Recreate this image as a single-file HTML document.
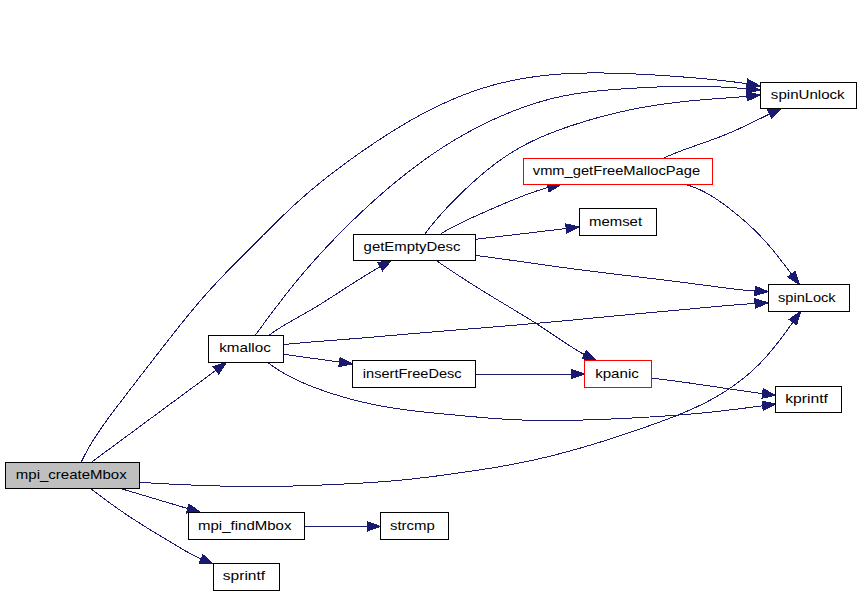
<!DOCTYPE html><html><head><meta charset="utf-8"><style>html,body{margin:0;padding:0;background:#fff;width:861px;height:595px;overflow:hidden}svg{display:block}text{font-family:"Liberation Sans",sans-serif;font-size:13px}</style></head><body>
<svg width="861" height="595" viewBox="0 0 861 595">
<path d="M91.50,462.20 L215.88,370.34" fill="none" stroke="#191970" stroke-width="1" shape-rendering="crispEdges"/>
<polygon points="218.67,374.12 226.50,362.50 213.09,366.56" fill="#191970" stroke="#191970" stroke-width="1" shape-rendering="crispEdges"/>
<path d="M81.20,462.20 L82.07,460.37 L82.95,458.55 L83.86,456.75 L84.78,454.96 L85.72,453.18 L86.68,451.41 L87.66,449.65 L88.65,447.90 L89.66,446.16 L90.68,444.44 L91.72,442.72 L92.77,441.01 L93.83,439.31 L94.91,437.61 L96.00,435.93 L97.10,434.25 L98.21,432.58 L99.33,430.92 L100.47,429.26 L101.61,427.61 L102.76,425.97 L103.92,424.33 L105.09,422.70 L106.26,421.07 L107.44,419.44 L108.63,417.82 L109.82,416.21 L111.02,414.59 L112.22,412.98 L113.43,411.37 L114.64,409.77 L115.85,408.17 L117.07,406.56 L118.28,404.96 L119.50,403.36 L120.72,401.76 L121.94,400.17 L123.16,398.57 L124.38,396.97 L125.60,395.37 L126.82,393.78 L128.04,392.18 L129.26,390.59 L130.49,388.99 L131.71,387.40 L132.94,385.80 L134.16,384.21 L135.39,382.62 L136.61,381.03 L137.84,379.43 L139.07,377.84 L140.29,376.25 L141.52,374.66 L142.75,373.07 L143.98,371.48 L145.21,369.89 L146.44,368.30 L147.67,366.71 L148.90,365.12 L150.13,363.53 L151.36,361.95 L152.59,360.36 L153.83,358.77 L155.06,357.18 L156.29,355.60 L157.52,354.01 L158.76,352.42 L159.99,350.84 L161.22,349.25 L162.46,347.66 L163.69,346.08 L164.93,344.49 L166.16,342.91 L167.40,341.32 L168.64,339.74 L169.88,338.16 L171.12,336.58 L172.36,335.00 L173.60,333.42 L174.85,331.84 L176.09,330.26 L177.34,328.69 L178.59,327.11 L179.84,325.54 L181.10,323.97 L182.36,322.41 L183.62,320.84 L184.88,319.28 L186.15,317.72 L187.41,316.16 L188.69,314.61 L189.96,313.06 L191.24,311.51 L192.53,309.97 L193.81,308.43 L195.10,306.89 L196.40,305.35 L197.70,303.82 L199.00,302.30 L200.31,300.77 L201.63,299.25 L202.94,297.74 L204.27,296.23 L205.60,294.72 L206.93,293.22 L208.27,291.72 L209.61,290.23 L210.96,288.74 L212.32,287.26 L213.68,285.78 L215.04,284.30 L216.41,282.83 L217.78,281.36 L219.15,279.90 L220.53,278.44 L221.92,276.98 L223.30,275.52 L224.69,274.07 L226.08,272.62 L227.48,271.17 L228.88,269.72 L230.28,268.28 L231.68,266.84 L233.09,265.40 L234.50,263.97 L235.91,262.53 L237.32,261.10 L238.73,259.67 L240.15,258.24 L241.56,256.81 L242.98,255.38 L244.40,253.96 L245.82,252.53 L247.24,251.10 L248.66,249.68 L250.08,248.26 L251.50,246.83 L252.92,245.41 L254.34,243.99 L255.76,242.56 L257.18,241.14 L258.60,239.72 L260.02,238.30 L261.44,236.87 L262.86,235.45 L264.29,234.03 L265.71,232.61 L267.13,231.20 L268.56,229.78 L269.98,228.37 L271.41,226.95 L272.84,225.54 L274.27,224.13 L275.70,222.73 L277.14,221.32 L278.58,219.92 L280.02,218.53 L281.46,217.13 L282.91,215.74 L284.36,214.35 L285.81,212.97 L287.27,211.58 L288.73,210.21 L290.19,208.83 L291.66,207.46 L293.13,206.10 L294.60,204.74 L296.08,203.38 L297.57,202.03 L299.06,200.69 L300.55,199.35 L302.05,198.02 L303.56,196.69 L305.07,195.36 L306.58,194.05 L308.10,192.73 L309.63,191.43 L311.16,190.13 L312.70,188.84 L314.24,187.55 L315.79,186.26 L317.34,184.99 L318.90,183.71 L320.46,182.45 L322.03,181.19 L323.60,179.93 L325.17,178.68 L326.75,177.43 L328.34,176.19 L329.92,174.96 L331.52,173.72 L333.11,172.50 L334.71,171.28 L336.31,170.06 L337.92,168.85 L339.53,167.64 L341.14,166.44 L342.76,165.24 L344.38,164.05 L346.00,162.86 L347.63,161.67 L349.25,160.49 L350.89,159.31 L352.52,158.14 L354.16,156.97 L355.79,155.80 L357.43,154.64 L359.08,153.49 L360.72,152.33 L362.37,151.18 L364.02,150.04 L365.67,148.90 L367.33,147.76 L368.98,146.62 L370.64,145.50 L372.30,144.37 L373.97,143.25 L375.63,142.14 L377.30,141.02 L378.98,139.92 L380.65,138.82 L382.33,137.72 L384.01,136.63 L385.70,135.55 L387.39,134.47 L389.08,133.39 L390.77,132.32 L392.47,131.26 L394.18,130.20 L395.88,129.15 L397.59,128.10 L399.30,127.06 L401.02,126.03 L402.74,125.00 L404.47,123.98 L406.20,122.97 L407.93,121.96 L409.67,120.96 L411.42,119.97 L413.16,118.98 L414.91,118.00 L416.67,117.03 L418.43,116.06 L420.20,115.10 L421.97,114.15 L423.74,113.21 L425.53,112.28 L427.31,111.35 L429.10,110.43 L430.89,109.52 L432.69,108.62 L434.50,107.72 L436.31,106.84 L438.12,105.96 L439.94,105.10 L441.76,104.24 L443.58,103.39 L445.42,102.56 L447.25,101.73 L449.09,100.91 L450.93,100.10 L452.78,99.31 L454.64,98.52 L456.49,97.75 L458.35,96.98 L460.22,96.23 L462.09,95.49 L463.96,94.76 L465.84,94.04 L467.72,93.33 L469.61,92.64 L471.50,91.95 L473.39,91.28 L475.29,90.63 L477.20,89.98 L479.10,89.35 L481.01,88.73 L482.93,88.12 L484.84,87.53 L486.77,86.95 L488.69,86.38 L490.62,85.83 L492.55,85.29 L494.49,84.76 L496.43,84.25 L498.37,83.75 L500.32,83.26 L502.27,82.78 L504.22,82.32 L506.18,81.87 L508.13,81.43 L510.09,81.00 L512.06,80.59 L514.02,80.18 L515.99,79.79 L517.96,79.42 L519.94,79.05 L521.91,78.70 L523.89,78.35 L525.87,78.02 L527.85,77.70 L529.84,77.39 L531.82,77.10 L533.81,76.81 L535.80,76.54 L537.79,76.28 L539.78,76.03 L541.78,75.78 L543.77,75.56 L545.77,75.34 L547.76,75.13 L549.76,74.93 L551.76,74.74 L553.76,74.57 L555.76,74.40 L557.76,74.25 L559.77,74.10 L561.77,73.96 L563.77,73.84 L565.78,73.72 L567.78,73.61 L569.79,73.51 L571.80,73.42 L573.80,73.34 L575.81,73.27 L577.82,73.20 L579.83,73.14 L581.84,73.09 L583.84,73.05 L585.85,73.02 L587.86,72.99 L589.87,72.97 L591.88,72.96 L593.89,72.95 L595.90,72.95 L597.92,72.96 L599.93,72.97 L601.94,72.99 L603.95,73.01 L605.96,73.04 L607.97,73.07 L609.98,73.11 L611.99,73.15 L614.00,73.20 L616.01,73.26 L618.02,73.31 L620.03,73.38 L622.03,73.44 L624.04,73.51 L626.05,73.58 L628.06,73.66 L630.07,73.74 L632.07,73.82 L634.08,73.91 L636.09,74.00 L638.09,74.10 L640.10,74.19 L642.10,74.30 L644.11,74.40 L646.12,74.51 L648.12,74.62 L650.13,74.73 L652.13,74.85 L654.13,74.97 L656.14,75.09 L658.14,75.21 L660.15,75.34 L662.15,75.47 L664.15,75.60 L666.16,75.74 L668.16,75.88 L670.16,76.02 L672.17,76.16 L674.17,76.31 L676.17,76.45 L678.18,76.60 L680.18,76.75 L682.18,76.91 L684.19,77.06 L686.19,77.22 L688.19,77.38 L690.20,77.54 L692.20,77.71 L694.20,77.87 L696.21,78.04 L698.21,78.21 L700.21,78.39 L702.21,78.56 L704.22,78.74 L706.22,78.92 L708.22,79.11 L710.22,79.30 L712.22,79.49 L714.22,79.69 L716.22,79.89 L718.22,80.10 L720.22,80.31 L722.22,80.53 L724.22,80.76 L726.22,80.99 L728.21,81.22 L730.21,81.46 L732.20,81.71 L734.19,81.97 L736.19,82.23 L738.18,82.50 L740.17,82.77 L742.16,83.06 L744.15,83.35 L746.13,83.65 L746.99,83.80" fill="none" stroke="#191970" stroke-width="1" shape-rendering="crispEdges"/>
<polygon points="746.20,88.43 760.00,86.00 747.77,79.16" fill="#191970" stroke="#191970" stroke-width="1" shape-rendering="crispEdges"/>
<path d="M139.50,482.30 L141.50,482.42 L143.51,482.55 L145.51,482.67 L147.52,482.79 L149.52,482.91 L151.53,483.02 L153.53,483.14 L155.54,483.26 L157.54,483.37 L159.55,483.48 L161.56,483.59 L163.56,483.70 L165.57,483.81 L167.57,483.91 L169.58,484.02 L171.58,484.12 L173.59,484.22 L175.60,484.32 L177.60,484.42 L179.61,484.51 L181.62,484.61 L183.62,484.70 L185.63,484.79 L187.64,484.88 L189.64,484.96 L191.65,485.05 L193.66,485.13 L195.66,485.21 L197.67,485.29 L199.68,485.36 L201.69,485.44 L203.69,485.51 L205.70,485.58 L207.71,485.65 L209.72,485.71 L211.72,485.77 L213.73,485.84 L215.74,485.89 L217.75,485.95 L219.75,486.00 L221.76,486.05 L223.77,486.10 L225.78,486.15 L227.79,486.19 L229.80,486.23 L231.80,486.27 L233.81,486.31 L235.82,486.34 L237.83,486.37 L239.84,486.40 L241.85,486.42 L243.85,486.44 L245.86,486.46 L247.87,486.48 L249.88,486.49 L251.89,486.50 L253.90,486.51 L255.90,486.51 L257.91,486.51 L259.92,486.51 L261.93,486.50 L263.94,486.49 L265.95,486.48 L267.96,486.47 L269.96,486.45 L271.97,486.42 L273.98,486.40 L275.99,486.37 L278.00,486.34 L280.01,486.30 L282.02,486.27 L284.02,486.23 L286.03,486.18 L288.04,486.14 L290.05,486.09 L292.06,486.03 L294.07,485.98 L296.07,485.92 L298.08,485.87 L300.09,485.80 L302.10,485.74 L304.11,485.68 L306.11,485.61 L308.12,485.54 L310.13,485.47 L312.14,485.39 L314.14,485.32 L316.15,485.24 L318.16,485.16 L320.17,485.08 L322.17,485.00 L324.18,484.91 L326.19,484.83 L328.20,484.74 L330.20,484.65 L332.21,484.57 L334.22,484.48 L336.22,484.38 L338.23,484.29 L340.24,484.20 L342.24,484.10 L344.25,484.01 L346.25,483.91 L348.26,483.81 L350.27,483.70 L352.27,483.60 L354.28,483.49 L356.28,483.38 L358.29,483.27 L360.29,483.16 L362.30,483.04 L364.30,482.92 L366.30,482.80 L368.31,482.67 L370.31,482.54 L372.32,482.41 L374.32,482.28 L376.32,482.14 L378.33,482.00 L380.33,481.85 L382.33,481.70 L384.33,481.55 L386.33,481.39 L388.34,481.23 L390.34,481.06 L392.34,480.89 L394.34,480.71 L396.34,480.53 L398.34,480.35 L400.34,480.16 L402.34,479.96 L404.34,479.77 L406.33,479.56 L408.33,479.35 L410.33,479.14 L412.33,478.93 L414.33,478.70 L416.32,478.48 L418.32,478.25 L420.32,478.02 L422.31,477.78 L424.31,477.55 L426.30,477.30 L428.30,477.06 L430.29,476.81 L432.28,476.56 L434.28,476.30 L436.27,476.04 L438.26,475.78 L440.26,475.52 L442.25,475.25 L444.24,474.99 L446.23,474.71 L448.22,474.44 L450.21,474.17 L452.20,473.89 L454.19,473.61 L456.18,473.33 L458.16,473.05 L460.15,472.77 L462.14,472.48 L464.13,472.19 L466.11,471.91 L468.10,471.62 L470.08,471.33 L472.07,471.03 L474.05,470.74 L476.04,470.44 L478.02,470.14 L480.00,469.84 L481.98,469.53 L483.96,469.22 L485.94,468.91 L487.92,468.59 L489.90,468.28 L491.88,467.95 L493.86,467.63 L495.84,467.30 L497.82,466.97 L499.79,466.63 L501.77,466.29 L503.74,465.94 L505.72,465.59 L507.69,465.23 L509.67,464.87 L511.64,464.50 L513.61,464.13 L515.58,463.76 L517.55,463.37 L519.52,462.99 L521.49,462.59 L523.46,462.19 L525.42,461.78 L527.39,461.37 L529.36,460.95 L531.32,460.53 L533.29,460.10 L535.25,459.66 L537.21,459.21 L539.17,458.76 L541.13,458.31 L543.09,457.85 L545.05,457.38 L547.01,456.91 L548.96,456.43 L550.92,455.95 L552.87,455.46 L554.82,454.97 L556.77,454.47 L558.72,453.96 L560.67,453.46 L562.62,452.94 L564.56,452.42 L566.51,451.90 L568.45,451.37 L570.39,450.84 L572.33,450.31 L574.27,449.76 L576.20,449.22 L578.14,448.67 L580.07,448.12 L582.00,447.56 L583.93,447.00 L585.86,446.43 L587.78,445.87 L589.71,445.29 L591.63,444.72 L593.55,444.14 L595.47,443.56 L597.38,442.97 L599.30,442.38 L601.21,441.79 L603.12,441.19 L605.03,440.59 L606.94,439.99 L608.85,439.38 L610.76,438.77 L612.66,438.16 L614.56,437.54 L616.47,436.92 L618.37,436.30 L620.27,435.67 L622.17,435.05 L624.07,434.41 L625.97,433.78 L627.86,433.14 L629.76,432.50 L631.66,431.86 L633.55,431.21 L635.45,430.56 L637.34,429.91 L639.24,429.25 L641.13,428.60 L643.02,427.93 L644.92,427.27 L646.81,426.61 L648.70,425.94 L650.60,425.27 L652.49,424.59 L654.38,423.91 L656.28,423.23 L658.17,422.55 L660.06,421.86 L661.95,421.17 L663.83,420.47 L665.72,419.76 L667.60,419.05 L669.48,418.34 L671.36,417.62 L673.24,416.89 L675.11,416.15 L676.98,415.41 L678.85,414.66 L680.71,413.90 L682.57,413.13 L684.42,412.35 L686.27,411.57 L688.12,410.77 L689.96,409.97 L691.79,409.15 L693.62,408.32 L695.45,407.48 L697.26,406.63 L699.08,405.77 L700.88,404.90 L702.68,404.01 L704.47,403.11 L706.26,402.20 L708.04,401.27 L709.81,400.33 L711.57,399.38 L713.32,398.41 L715.07,397.42 L716.81,396.43 L718.54,395.41 L720.26,394.39 L721.97,393.34 L723.67,392.29 L725.36,391.21 L727.04,390.13 L728.71,389.03 L730.37,387.91 L732.02,386.78 L733.66,385.63 L735.29,384.47 L736.91,383.29 L738.51,382.09 L740.11,380.88 L741.69,379.66 L743.26,378.41 L744.81,377.16 L746.36,375.88 L747.89,374.59 L749.40,373.29 L750.91,371.97 L752.40,370.63 L753.87,369.27 L755.34,367.90 L756.78,366.52 L758.22,365.11 L759.63,363.69 L761.04,362.25 L762.42,360.80 L763.79,359.33 L765.15,357.84 L766.50,356.34 L767.83,354.83 L769.15,353.30 L770.45,351.77 L771.75,350.22 L773.03,348.65 L774.30,347.08 L775.56,345.50 L776.82,343.91 L778.06,342.32 L779.29,340.71 L780.52,339.10 L781.74,337.49 L782.95,335.87 L784.15,334.25 L785.35,332.62 L786.55,330.99 L787.73,329.36 L788.92,327.72 L790.10,326.09 L791.27,324.46 L792.44,322.83 L792.89,322.21" fill="none" stroke="#191970" stroke-width="1" shape-rendering="crispEdges"/>
<polygon points="796.70,324.96 800.60,311.50 789.07,319.46" fill="#191970" stroke="#191970" stroke-width="1" shape-rendering="crispEdges"/>
<path d="M115.50,487.00 L187.65,508.53" fill="none" stroke="#191970" stroke-width="1" shape-rendering="crispEdges"/>
<polygon points="186.31,513.03 200.30,512.30 188.99,504.02" fill="#191970" stroke="#191970" stroke-width="1" shape-rendering="crispEdges"/>
<path d="M88.80,487.30 L90.42,488.53 L92.04,489.76 L93.66,490.99 L95.29,492.22 L96.92,493.44 L98.55,494.66 L100.18,495.88 L101.82,497.09 L103.45,498.30 L105.09,499.51 L106.74,500.71 L108.38,501.91 L110.03,503.10 L111.69,504.29 L113.34,505.48 L115.00,506.66 L116.67,507.83 L118.33,509.00 L120.00,510.16 L121.68,511.32 L123.36,512.47 L125.04,513.62 L126.73,514.75 L128.42,515.89 L130.11,517.01 L131.81,518.13 L133.52,519.24 L135.23,520.35 L136.94,521.45 L138.65,522.54 L140.37,523.63 L142.09,524.72 L143.82,525.80 L145.54,526.88 L147.27,527.95 L149.01,529.02 L150.74,530.09 L152.48,531.15 L154.22,532.21 L155.95,533.27 L157.70,534.33 L159.44,535.39 L161.18,536.44 L162.92,537.49 L164.67,538.55 L166.41,539.60 L168.16,540.65 L169.90,541.70 L171.65,542.76 L173.40,543.81 L175.14,544.86 L176.89,545.91 L178.64,546.95 L180.40,547.98 L182.15,549.01 L183.92,550.03 L185.69,551.04 L187.46,552.03 L189.24,553.01 L191.03,553.98 L192.82,554.93 L194.63,555.86 L196.44,556.78 L198.27,557.67 L200.10,558.54 L201.07,558.93" fill="none" stroke="#191970" stroke-width="1" shape-rendering="crispEdges"/>
<polygon points="199.30,563.29 213.30,563.90 202.84,554.58" fill="#191970" stroke="#191970" stroke-width="1" shape-rendering="crispEdges"/>
<path d="M304.50,526.40 L367.30,526.40" fill="none" stroke="#191970" stroke-width="1" shape-rendering="crispEdges"/>
<polygon points="367.30,531.10 380.50,526.40 367.30,521.70" fill="#191970" stroke="#191970" stroke-width="1" shape-rendering="crispEdges"/>
<path d="M268.90,335.40 L270.54,334.19 L272.19,333.00 L273.86,331.83 L275.54,330.69 L277.23,329.57 L278.94,328.47 L280.65,327.39 L282.38,326.32 L284.11,325.27 L285.85,324.23 L287.60,323.20 L289.36,322.18 L291.12,321.17 L292.88,320.17 L294.65,319.17 L296.42,318.17 L298.19,317.18 L299.97,316.19 L301.74,315.20 L303.51,314.20 L305.27,313.20 L307.04,312.20 L308.80,311.18 L310.55,310.16 L312.30,309.13 L314.05,308.09 L315.79,307.04 L317.52,305.99 L319.25,304.92 L320.98,303.85 L322.70,302.77 L324.42,301.69 L326.13,300.60 L327.84,299.51 L329.55,298.42 L331.26,297.32 L332.96,296.22 L334.67,295.11 L336.37,294.01 L338.07,292.90 L339.77,291.80 L341.47,290.69 L343.17,289.59 L344.87,288.49 L346.57,287.39 L348.27,286.29 L349.97,285.20 L351.67,284.11 L353.37,283.03 L355.08,281.95 L356.79,280.87 L358.50,279.80 L360.21,278.73 L361.92,277.67 L363.64,276.61 L365.36,275.55 L367.08,274.50 L368.81,273.46 L370.54,272.41 L372.27,271.37 L374.01,270.34 L375.75,269.31 L377.49,268.28 L379.24,267.26 L380.14,266.74" fill="none" stroke="#191970" stroke-width="1" shape-rendering="crispEdges"/>
<polygon points="382.47,270.83 391.60,260.20 377.81,262.66" fill="#191970" stroke="#191970" stroke-width="1" shape-rendering="crispEdges"/>
<path d="M255.60,334.70 L256.80,333.08 L257.99,331.47 L259.19,329.85 L260.38,328.23 L261.58,326.61 L262.78,325.00 L263.97,323.38 L265.17,321.77 L266.37,320.15 L267.57,318.54 L268.78,316.92 L269.98,315.31 L271.19,313.70 L272.39,312.09 L273.60,310.49 L274.82,308.88 L276.03,307.28 L277.25,305.67 L278.47,304.07 L279.69,302.48 L280.91,300.88 L282.14,299.29 L283.37,297.70 L284.61,296.11 L285.85,294.52 L287.09,292.94 L288.33,291.36 L289.58,289.79 L290.84,288.22 L292.10,286.65 L293.36,285.08 L294.63,283.52 L295.90,281.97 L297.18,280.41 L298.46,278.86 L299.75,277.32 L301.04,275.78 L302.34,274.24 L303.64,272.71 L304.95,271.18 L306.26,269.65 L307.57,268.13 L308.89,266.61 L310.22,265.10 L311.55,263.59 L312.88,262.08 L314.22,260.58 L315.56,259.08 L316.91,257.59 L318.26,256.10 L319.61,254.61 L320.97,253.13 L322.34,251.65 L323.70,250.17 L325.07,248.70 L326.45,247.23 L327.83,245.76 L329.21,244.30 L330.59,242.84 L331.98,241.39 L333.38,239.94 L334.77,238.49 L336.18,237.05 L337.58,235.61 L338.99,234.17 L340.40,232.74 L341.81,231.31 L343.23,229.88 L344.65,228.46 L346.08,227.04 L347.51,225.62 L348.94,224.21 L350.37,222.80 L351.81,221.40 L353.25,220.00 L354.70,218.60 L356.15,217.21 L357.60,215.82 L359.06,214.43 L360.52,213.05 L361.98,211.67 L363.45,210.30 L364.92,208.93 L366.40,207.56 L367.88,206.20 L369.36,204.84 L370.85,203.49 L372.34,202.14 L373.83,200.79 L375.33,199.45 L376.83,198.11 L378.34,196.78 L379.85,195.45 L381.37,194.13 L382.88,192.81 L384.41,191.49 L385.93,190.18 L387.46,188.87 L389.00,187.57 L390.54,186.28 L392.08,184.98 L393.63,183.69 L395.18,182.41 L396.73,181.13 L398.29,179.86 L399.86,178.59 L401.42,177.33 L403.00,176.07 L404.57,174.82 L406.16,173.57 L407.74,172.33 L409.33,171.10 L410.93,169.87 L412.53,168.65 L414.13,167.43 L415.74,166.22 L417.35,165.02 L418.97,163.82 L420.59,162.63 L422.22,161.44 L423.85,160.27 L425.49,159.10 L427.13,157.93 L428.78,156.78 L430.43,155.63 L432.08,154.49 L433.74,153.35 L435.41,152.22 L437.08,151.10 L438.76,149.99 L440.44,148.89 L442.12,147.79 L443.81,146.70 L445.51,145.62 L447.21,144.55 L448.92,143.49 L450.63,142.43 L452.35,141.38 L454.07,140.35 L455.79,139.31 L457.52,138.29 L459.26,137.28 L461.00,136.27 L462.75,135.27 L464.50,134.29 L466.25,133.31 L468.01,132.33 L469.78,131.37 L471.55,130.42 L473.32,129.47 L475.10,128.53 L476.88,127.61 L478.67,126.69 L480.46,125.78 L482.26,124.88 L484.06,123.98 L485.87,123.10 L487.68,122.23 L489.50,121.36 L491.32,120.50 L493.14,119.66 L494.97,118.82 L496.81,117.99 L498.65,117.17 L500.49,116.36 L502.34,115.56 L504.19,114.77 L506.04,113.99 L507.90,113.22 L509.77,112.46 L511.64,111.71 L513.51,110.97 L515.39,110.24 L517.27,109.52 L519.15,108.82 L521.04,108.12 L522.94,107.44 L524.83,106.76 L526.74,106.10 L528.64,105.45 L530.55,104.81 L532.46,104.19 L534.38,103.58 L536.30,102.98 L538.22,102.39 L540.15,101.81 L542.08,101.25 L544.01,100.70 L545.95,100.17 L547.89,99.65 L549.83,99.14 L551.78,98.65 L553.73,98.17 L555.68,97.70 L557.64,97.25 L559.60,96.82 L561.56,96.39 L563.53,95.99 L565.49,95.60 L567.47,95.22 L569.44,94.86 L571.42,94.51 L573.40,94.17 L575.38,93.85 L577.36,93.53 L579.35,93.24 L581.34,92.95 L583.33,92.67 L585.32,92.40 L587.32,92.15 L589.31,91.90 L591.31,91.67 L593.31,91.44 L595.31,91.22 L597.31,91.01 L599.32,90.81 L601.32,90.62 L603.32,90.43 L605.33,90.25 L607.34,90.08 L609.35,89.91 L611.35,89.75 L613.36,89.59 L615.37,89.44 L617.38,89.29 L619.39,89.15 L621.40,89.01 L623.41,88.88 L625.42,88.74 L627.43,88.61 L629.44,88.48 L631.45,88.36 L633.46,88.23 L635.47,88.11 L637.47,87.99 L639.48,87.87 L641.49,87.76 L643.50,87.65 L645.51,87.54 L647.51,87.43 L649.52,87.33 L651.53,87.24 L653.53,87.14 L655.54,87.05 L657.55,86.96 L659.56,86.88 L661.56,86.80 L663.57,86.73 L665.58,86.66 L667.59,86.60 L669.59,86.54 L671.60,86.48 L673.61,86.43 L675.62,86.39 L677.63,86.35 L679.64,86.31 L681.65,86.29 L683.66,86.26 L685.67,86.25 L687.68,86.24 L689.69,86.23 L691.70,86.24 L693.71,86.25 L695.72,86.26 L697.74,86.29 L699.75,86.31 L701.76,86.35 L703.78,86.39 L705.79,86.44 L707.80,86.50 L709.82,86.56 L711.83,86.62 L713.85,86.70 L715.86,86.78 L717.87,86.86 L719.89,86.96 L721.90,87.05 L723.91,87.16 L725.93,87.27 L727.94,87.38 L729.95,87.51 L731.96,87.63 L733.97,87.77 L735.98,87.91 L737.99,88.05 L739.99,88.20 L742.00,88.36 L744.00,88.52 L746.01,88.69 L746.86,88.77" fill="none" stroke="#191970" stroke-width="1" shape-rendering="crispEdges"/>
<polygon points="746.42,93.44 760.00,90.00 747.30,84.09" fill="#191970" stroke="#191970" stroke-width="1" shape-rendering="crispEdges"/>
<path d="M283.40,344.50 L285.40,344.31 L287.40,344.11 L289.41,343.93 L291.41,343.74 L293.41,343.56 L295.41,343.38 L297.42,343.20 L299.42,343.02 L301.42,342.85 L303.43,342.68 L305.43,342.51 L307.43,342.34 L309.44,342.18 L311.44,342.01 L313.45,341.85 L315.45,341.69 L317.45,341.53 L319.46,341.37 L321.46,341.21 L323.47,341.05 L325.47,340.90 L327.48,340.74 L329.48,340.58 L331.49,340.43 L333.49,340.27 L335.50,340.12 L337.50,339.96 L339.50,339.80 L341.51,339.65 L343.51,339.49 L345.52,339.33 L347.52,339.17 L349.53,339.01 L351.53,338.85 L353.54,338.69 L355.54,338.53 L357.54,338.37 L359.55,338.20 L361.55,338.03 L363.56,337.87 L365.56,337.70 L367.56,337.53 L369.57,337.36 L371.57,337.19 L373.57,337.02 L375.58,336.85 L377.58,336.67 L379.58,336.50 L381.59,336.33 L383.59,336.15 L385.59,335.98 L387.60,335.80 L389.60,335.63 L391.60,335.45 L393.61,335.28 L395.61,335.10 L397.61,334.93 L399.61,334.75 L401.62,334.58 L403.62,334.40 L405.62,334.23 L407.63,334.05 L409.63,333.88 L411.63,333.70 L413.64,333.53 L415.64,333.36 L417.64,333.19 L419.65,333.02 L421.65,332.84 L423.65,332.67 L425.66,332.50 L427.66,332.34 L429.67,332.17 L431.67,332.00 L433.67,331.83 L435.68,331.67 L437.68,331.50 L439.69,331.34 L441.69,331.17 L443.69,331.01 L445.70,330.84 L447.70,330.68 L449.71,330.52 L451.71,330.35 L453.71,330.19 L455.72,330.03 L457.72,329.87 L459.73,329.71 L461.73,329.54 L463.74,329.38 L465.74,329.22 L467.74,329.06 L469.75,328.90 L471.75,328.73 L473.76,328.57 L475.76,328.41 L477.77,328.25 L479.77,328.09 L481.77,327.92 L483.78,327.76 L485.78,327.60 L487.79,327.43 L489.79,327.27 L491.80,327.10 L493.80,326.94 L495.80,326.77 L497.81,326.61 L499.81,326.44 L501.81,326.28 L503.82,326.11 L505.82,325.94 L507.83,325.77 L509.83,325.61 L511.83,325.44 L513.84,325.27 L515.84,325.10 L517.84,324.93 L519.85,324.75 L521.85,324.58 L523.85,324.41 L525.86,324.24 L527.86,324.06 L529.86,323.89 L531.87,323.71 L533.87,323.54 L535.87,323.36 L537.88,323.19 L539.88,323.01 L541.88,322.83 L543.88,322.65 L545.89,322.47 L547.89,322.29 L549.89,322.11 L551.89,321.93 L553.90,321.74 L555.90,321.56 L557.90,321.38 L559.90,321.19 L561.91,321.01 L563.91,320.82 L565.91,320.63 L567.91,320.44 L569.92,320.26 L571.92,320.07 L573.92,319.88 L575.92,319.69 L577.92,319.50 L579.92,319.30 L581.93,319.11 L583.93,318.92 L585.93,318.73 L587.93,318.54 L589.93,318.34 L591.93,318.15 L593.94,317.96 L595.94,317.76 L597.94,317.57 L599.94,317.38 L601.94,317.18 L603.94,316.99 L605.95,316.80 L607.95,316.60 L609.95,316.41 L611.95,316.22 L613.95,316.02 L615.95,315.83 L617.96,315.64 L619.96,315.45 L621.96,315.26 L623.96,315.07 L625.96,314.88 L627.96,314.69 L629.97,314.50 L631.97,314.31 L633.97,314.12 L635.97,313.94 L637.97,313.75 L639.98,313.57 L641.98,313.38 L643.98,313.19 L645.98,313.01 L647.98,312.83 L649.99,312.64 L651.99,312.46 L653.99,312.27 L655.99,312.09 L658.00,311.91 L660.00,311.73 L662.00,311.54 L664.00,311.36 L666.01,311.18 L668.01,310.99 L670.01,310.81 L672.01,310.63 L674.02,310.45 L676.02,310.26 L678.02,310.08 L680.02,309.90 L682.02,309.71 L684.03,309.53 L686.03,309.34 L688.03,309.16 L690.03,308.98 L692.04,308.79 L694.04,308.60 L696.04,308.42 L698.04,308.23 L700.05,308.04 L702.05,307.86 L704.05,307.67 L706.05,307.48 L708.06,307.29 L710.06,307.11 L712.06,306.92 L714.06,306.73 L716.06,306.55 L718.07,306.36 L720.07,306.18 L722.07,306.00 L724.08,305.82 L726.08,305.65 L728.08,305.47 L730.09,305.30 L732.09,305.13 L734.09,304.97 L736.10,304.80 L738.10,304.64 L740.11,304.49 L742.11,304.34 L744.12,304.19 L746.12,304.04 L748.13,303.91 L750.13,303.77 L752.14,303.64 L754.14,303.52 L755.02,303.47" fill="none" stroke="#191970" stroke-width="1" shape-rendering="crispEdges"/>
<polygon points="755.26,308.16 768.20,302.80 754.78,298.78" fill="#191970" stroke="#191970" stroke-width="1" shape-rendering="crispEdges"/>
<path d="M283.40,354.30 L339.42,362.00" fill="none" stroke="#191970" stroke-width="1" shape-rendering="crispEdges"/>
<polygon points="338.78,366.66 352.50,363.80 340.06,357.35" fill="#191970" stroke="#191970" stroke-width="1" shape-rendering="crispEdges"/>
<path d="M267.40,362.30 L269.01,363.51 L270.63,364.69 L272.27,365.85 L273.92,366.98 L275.59,368.10 L277.27,369.19 L278.96,370.26 L280.67,371.30 L282.39,372.33 L284.13,373.33 L285.87,374.32 L287.63,375.28 L289.40,376.22 L291.18,377.15 L292.97,378.06 L294.77,378.95 L296.58,379.82 L298.40,380.67 L300.23,381.51 L302.06,382.33 L303.91,383.14 L305.76,383.93 L307.62,384.71 L309.49,385.47 L311.36,386.22 L313.24,386.95 L315.12,387.67 L317.01,388.38 L318.90,389.07 L320.80,389.76 L322.70,390.43 L324.60,391.09 L326.51,391.75 L328.42,392.39 L330.33,393.02 L332.25,393.64 L334.17,394.25 L336.09,394.85 L338.01,395.44 L339.94,396.02 L341.87,396.59 L343.80,397.15 L345.73,397.70 L347.67,398.24 L349.61,398.78 L351.55,399.30 L353.49,399.81 L355.44,400.31 L357.39,400.80 L359.34,401.28 L361.29,401.75 L363.25,402.21 L365.20,402.66 L367.16,403.11 L369.13,403.54 L371.09,403.96 L373.06,404.37 L375.02,404.78 L376.99,405.17 L378.97,405.56 L380.94,405.93 L382.92,406.30 L384.89,406.65 L386.87,407.00 L388.85,407.33 L390.84,407.66 L392.82,407.98 L394.81,408.29 L396.80,408.59 L398.79,408.88 L400.78,409.17 L402.77,409.45 L404.76,409.72 L406.76,409.98 L408.76,410.24 L410.75,410.49 L412.75,410.74 L414.75,410.98 L416.75,411.21 L418.75,411.44 L420.75,411.66 L422.76,411.88 L424.76,412.10 L426.76,412.31 L428.77,412.52 L430.77,412.72 L432.78,412.92 L434.78,413.12 L436.79,413.32 L438.79,413.51 L440.80,413.70 L442.80,413.89 L444.81,414.08 L446.82,414.27 L448.82,414.46 L450.83,414.65 L452.83,414.84 L454.84,415.02 L456.84,415.21 L458.85,415.40 L460.85,415.59 L462.85,415.77 L464.86,415.96 L466.86,416.14 L468.86,416.33 L470.87,416.51 L472.87,416.69 L474.87,416.87 L476.88,417.04 L478.88,417.22 L480.88,417.39 L482.89,417.56 L484.89,417.72 L486.89,417.89 L488.90,418.05 L490.90,418.20 L492.90,418.35 L494.91,418.50 L496.91,418.65 L498.91,418.79 L500.92,418.92 L502.92,419.05 L504.93,419.18 L506.93,419.30 L508.94,419.41 L510.95,419.52 L512.95,419.62 L514.96,419.72 L516.97,419.81 L518.98,419.90 L520.99,419.98 L522.99,420.05 L525.00,420.12 L527.01,420.18 L529.02,420.23 L531.04,420.28 L533.05,420.33 L535.06,420.36 L537.07,420.40 L539.08,420.43 L541.09,420.45 L543.11,420.47 L545.12,420.48 L547.13,420.49 L549.14,420.49 L551.16,420.49 L553.17,420.49 L555.18,420.48 L557.20,420.47 L559.21,420.45 L561.22,420.43 L563.24,420.41 L565.25,420.38 L567.26,420.35 L569.27,420.31 L571.29,420.27 L573.30,420.23 L575.31,420.19 L577.32,420.14 L579.34,420.09 L581.35,420.04 L583.36,419.99 L585.37,419.93 L587.38,419.87 L589.39,419.81 L591.40,419.75 L593.41,419.68 L595.42,419.62 L597.43,419.55 L599.44,419.47 L601.45,419.40 L603.46,419.32 L605.47,419.24 L607.48,419.16 L609.49,419.08 L611.49,418.99 L613.50,418.90 L615.51,418.81 L617.52,418.72 L619.53,418.63 L621.54,418.53 L623.54,418.44 L625.55,418.34 L627.56,418.24 L629.57,418.13 L631.57,418.03 L633.58,417.92 L635.59,417.81 L637.60,417.70 L639.61,417.59 L641.61,417.48 L643.62,417.36 L645.63,417.24 L647.64,417.12 L649.65,417.00 L651.65,416.88 L653.66,416.76 L655.67,416.63 L657.68,416.50 L659.69,416.37 L661.69,416.24 L663.70,416.10 L665.71,415.97 L667.72,415.83 L669.73,415.68 L671.73,415.54 L673.74,415.39 L675.75,415.24 L677.75,415.09 L679.76,414.94 L681.77,414.78 L683.77,414.62 L685.78,414.45 L687.79,414.29 L689.79,414.12 L691.80,413.94 L693.80,413.77 L695.81,413.59 L697.81,413.40 L699.81,413.22 L701.82,413.03 L703.82,412.83 L705.82,412.63 L707.82,412.43 L709.82,412.23 L711.82,412.02 L713.82,411.80 L715.82,411.59 L717.82,411.36 L719.82,411.14 L721.82,410.91 L723.82,410.68 L725.82,410.45 L727.81,410.21 L729.81,409.97 L731.81,409.73 L733.80,409.49 L735.80,409.24 L737.80,408.99 L739.79,408.74 L741.79,408.49 L743.78,408.24 L745.78,407.98 L747.77,407.72 L749.77,407.47 L751.76,407.21 L753.76,406.95 L755.75,406.69 L757.74,406.43 L759.74,406.17 L761.73,405.91 L762.61,405.80" fill="none" stroke="#191970" stroke-width="1" shape-rendering="crispEdges"/>
<polygon points="763.21,410.46 775.70,404.10 762.01,401.14" fill="#191970" stroke="#191970" stroke-width="1" shape-rendering="crispEdges"/>
<path d="M424.90,233.90 L426.12,232.29 L427.35,230.69 L428.59,229.09 L429.84,227.51 L431.11,225.94 L432.38,224.37 L433.66,222.82 L434.94,221.27 L436.24,219.73 L437.55,218.21 L438.87,216.69 L440.19,215.17 L441.53,213.67 L442.87,212.17 L444.22,210.69 L445.58,209.21 L446.95,207.73 L448.33,206.27 L449.71,204.81 L451.10,203.36 L452.50,201.92 L453.91,200.48 L455.32,199.05 L456.75,197.63 L458.18,196.21 L459.61,194.80 L461.06,193.40 L462.51,192.00 L463.96,190.61 L465.43,189.22 L466.90,187.84 L468.38,186.47 L469.86,185.10 L471.35,183.74 L472.85,182.38 L474.35,181.03 L475.86,179.69 L477.38,178.35 L478.90,177.03 L480.44,175.71 L481.97,174.40 L483.52,173.10 L485.08,171.81 L486.64,170.53 L488.21,169.26 L489.79,168.01 L491.38,166.76 L492.97,165.53 L494.58,164.30 L496.19,163.09 L497.81,161.90 L499.44,160.71 L501.08,159.54 L502.73,158.39 L504.39,157.24 L506.05,156.12 L507.73,155.01 L509.42,153.91 L511.11,152.83 L512.82,151.77 L514.53,150.72 L516.26,149.69 L518.00,148.68 L519.74,147.69 L521.50,146.71 L523.27,145.75 L525.04,144.81 L526.82,143.88 L528.62,142.97 L530.42,142.07 L532.23,141.19 L534.05,140.33 L535.87,139.47 L537.70,138.64 L539.54,137.81 L541.39,137.00 L543.24,136.21 L545.10,135.42 L546.97,134.65 L548.84,133.89 L550.71,133.14 L552.59,132.41 L554.48,131.68 L556.37,130.97 L558.27,130.27 L560.17,129.57 L562.07,128.89 L563.98,128.21 L565.89,127.55 L567.80,126.89 L569.71,126.24 L571.63,125.60 L573.55,124.97 L575.47,124.34 L577.40,123.72 L579.32,123.11 L581.25,122.51 L583.18,121.91 L585.11,121.32 L587.04,120.74 L588.97,120.16 L590.91,119.60 L592.84,119.04 L594.78,118.48 L596.72,117.94 L598.67,117.40 L600.61,116.87 L602.55,116.35 L604.50,115.84 L606.45,115.33 L608.40,114.83 L610.35,114.34 L612.31,113.86 L614.26,113.38 L616.22,112.91 L618.18,112.45 L620.14,112.00 L622.11,111.56 L624.07,111.12 L626.04,110.69 L628.00,110.27 L629.97,109.86 L631.95,109.46 L633.92,109.06 L635.89,108.67 L637.87,108.29 L639.85,107.92 L641.83,107.56 L643.81,107.20 L645.80,106.86 L647.78,106.52 L649.77,106.18 L651.75,105.86 L653.74,105.54 L655.73,105.23 L657.72,104.93 L659.72,104.63 L661.71,104.34 L663.71,104.06 L665.70,103.79 L667.70,103.52 L669.70,103.25 L671.70,103.00 L673.70,102.75 L675.70,102.51 L677.70,102.27 L679.70,102.04 L681.71,101.81 L683.71,101.59 L685.72,101.38 L687.72,101.17 L689.73,100.97 L691.73,100.77 L693.74,100.58 L695.75,100.39 L697.76,100.21 L699.76,100.03 L701.77,99.86 L703.78,99.69 L705.79,99.53 L707.80,99.37 L709.81,99.21 L711.82,99.05 L713.83,98.90 L715.84,98.75 L717.85,98.60 L719.86,98.45 L721.86,98.30 L723.87,98.15 L725.88,98.00 L727.89,97.85 L729.90,97.70 L731.91,97.55 L733.92,97.39 L735.93,97.23 L737.94,97.07 L739.94,96.91 L741.95,96.74 L743.96,96.57 L745.97,96.39 L746.86,96.30" fill="none" stroke="#191970" stroke-width="1" shape-rendering="crispEdges"/>
<polygon points="747.33,100.98 760.00,95.00 746.40,91.63" fill="#191970" stroke="#191970" stroke-width="1" shape-rendering="crispEdges"/>
<path d="M441.30,233.40 L443.09,232.38 L444.89,231.38 L446.69,230.39 L448.50,229.40 L450.31,228.44 L452.13,227.48 L453.95,226.53 L455.78,225.59 L457.61,224.66 L459.45,223.74 L461.29,222.83 L463.13,221.93 L464.98,221.04 L466.83,220.15 L468.69,219.27 L470.55,218.40 L472.41,217.54 L474.28,216.68 L476.15,215.83 L478.02,214.98 L479.89,214.14 L481.77,213.30 L483.64,212.47 L485.53,211.64 L487.41,210.82 L489.29,210.00 L491.18,209.18 L493.07,208.37 L494.95,207.55 L496.84,206.74 L498.73,205.93 L500.62,205.12 L502.52,204.31 L504.41,203.51 L506.30,202.71 L508.20,201.91 L510.10,201.11 L512.00,200.32 L513.90,199.54 L515.80,198.76 L517.71,197.99 L519.62,197.23 L521.53,196.48 L523.45,195.73 L525.37,195.00 L527.29,194.28 L529.22,193.57 L531.15,192.88 L533.09,192.19 L535.03,191.53 L536.97,190.87 L538.92,190.24 L540.88,189.61 L542.84,189.01 L544.81,188.43 L546.79,187.86 L547.96,187.58" fill="none" stroke="#191970" stroke-width="1" shape-rendering="crispEdges"/>
<polygon points="549.06,192.15 560.80,184.50 546.87,183.01" fill="#191970" stroke="#191970" stroke-width="1" shape-rendering="crispEdges"/>
<path d="M475.50,239.30 L566.19,228.55" fill="none" stroke="#191970" stroke-width="1" shape-rendering="crispEdges"/>
<polygon points="566.74,233.22 579.30,227.00 565.64,223.89" fill="#191970" stroke="#191970" stroke-width="1" shape-rendering="crispEdges"/>
<path d="M475.90,255.50 L477.90,255.75 L479.90,256.00 L481.91,256.26 L483.91,256.51 L485.91,256.77 L487.91,257.04 L489.91,257.30 L491.91,257.57 L493.91,257.84 L495.91,258.11 L497.91,258.39 L499.90,258.66 L501.90,258.94 L503.90,259.22 L505.90,259.50 L507.90,259.78 L509.90,260.06 L511.89,260.34 L513.89,260.63 L515.89,260.91 L517.89,261.20 L519.88,261.48 L521.88,261.77 L523.88,262.05 L525.88,262.34 L527.87,262.62 L529.87,262.91 L531.87,263.19 L533.87,263.47 L535.86,263.75 L537.86,264.04 L539.86,264.32 L541.86,264.60 L543.86,264.88 L545.86,265.15 L547.85,265.43 L549.85,265.71 L551.85,265.98 L553.85,266.26 L555.85,266.53 L557.85,266.80 L559.85,267.07 L561.85,267.34 L563.85,267.61 L565.85,267.88 L567.85,268.15 L569.85,268.41 L571.85,268.68 L573.85,268.94 L575.85,269.20 L577.85,269.47 L579.85,269.73 L581.85,269.99 L583.85,270.24 L585.85,270.50 L587.85,270.76 L589.86,271.01 L591.86,271.26 L593.86,271.51 L595.86,271.76 L597.87,272.01 L599.87,272.26 L601.87,272.51 L603.87,272.75 L605.88,273.00 L607.88,273.24 L609.88,273.49 L611.89,273.73 L613.89,273.97 L615.89,274.21 L617.90,274.46 L619.90,274.70 L621.90,274.94 L623.91,275.18 L625.91,275.42 L627.91,275.66 L629.92,275.90 L631.92,276.14 L633.92,276.38 L635.93,276.62 L637.93,276.86 L639.93,277.10 L641.94,277.34 L643.94,277.58 L645.94,277.82 L647.95,278.06 L649.95,278.31 L651.95,278.55 L653.95,278.79 L655.96,279.04 L657.96,279.29 L659.96,279.53 L661.96,279.78 L663.97,280.03 L665.97,280.28 L667.97,280.53 L669.97,280.78 L671.97,281.03 L673.98,281.28 L675.98,281.53 L677.98,281.78 L679.98,282.04 L681.98,282.29 L683.98,282.55 L685.98,282.80 L687.98,283.06 L689.99,283.32 L691.99,283.58 L693.99,283.84 L695.99,284.10 L697.99,284.36 L699.99,284.62 L701.99,284.88 L703.99,285.14 L705.99,285.41 L707.99,285.67 L709.99,285.94 L712.00,286.20 L714.00,286.47 L716.00,286.73 L718.00,287.00 L720.00,287.26 L722.00,287.52 L724.00,287.78 L726.00,288.03 L728.01,288.28 L730.01,288.53 L732.01,288.77 L734.02,289.00 L736.02,289.23 L738.02,289.46 L740.03,289.67 L742.04,289.88 L744.04,290.08 L746.05,290.27 L748.06,290.45 L750.07,290.62 L752.08,290.78 L754.09,290.92 L755.02,290.97" fill="none" stroke="#191970" stroke-width="1" shape-rendering="crispEdges"/>
<polygon points="754.79,295.66 768.20,291.60 755.24,286.27" fill="#191970" stroke="#191970" stroke-width="1" shape-rendering="crispEdges"/>
<path d="M435.90,260.30 L437.58,261.45 L439.26,262.60 L440.94,263.74 L442.62,264.88 L444.31,266.02 L445.99,267.16 L447.68,268.29 L449.38,269.43 L451.07,270.55 L452.76,271.68 L454.46,272.80 L456.16,273.92 L457.86,275.04 L459.57,276.16 L461.27,277.27 L462.98,278.38 L464.69,279.48 L466.40,280.58 L468.11,281.69 L469.83,282.78 L471.54,283.88 L473.26,284.97 L474.98,286.06 L476.70,287.14 L478.43,288.22 L480.15,289.30 L481.88,290.38 L483.61,291.45 L485.35,292.52 L487.08,293.59 L488.81,294.65 L490.55,295.71 L492.29,296.77 L494.03,297.82 L495.77,298.87 L497.52,299.92 L499.26,300.97 L501.01,302.02 L502.75,303.07 L504.50,304.11 L506.24,305.16 L507.99,306.20 L509.73,307.25 L511.48,308.30 L513.22,309.35 L514.97,310.39 L516.71,311.45 L518.45,312.50 L520.19,313.56 L521.93,314.61 L523.66,315.67 L525.40,316.74 L527.13,317.81 L528.86,318.88 L530.58,319.96 L532.31,321.04 L534.03,322.12 L535.75,323.22 L537.46,324.31 L539.17,325.42 L540.88,326.53 L542.58,327.64 L544.28,328.77 L545.97,329.89 L547.66,331.03 L549.35,332.17 L551.04,333.31 L552.73,334.45 L554.41,335.59 L556.10,336.73 L557.78,337.87 L559.47,339.01 L561.16,340.15 L562.85,341.28 L564.55,342.40 L566.25,343.52 L567.95,344.63 L569.66,345.73 L571.37,346.82 L573.09,347.91 L574.82,348.98 L576.56,350.03 L578.30,351.07 L580.05,352.10 L581.81,353.11 L583.58,354.11 L584.51,354.57" fill="none" stroke="#191970" stroke-width="1" shape-rendering="crispEdges"/>
<polygon points="582.40,358.77 596.30,360.50 586.62,350.37" fill="#191970" stroke="#191970" stroke-width="1" shape-rendering="crispEdges"/>
<path d="M663.20,158.30 L665.05,157.45 L666.91,156.61 L668.78,155.80 L670.65,155.00 L672.53,154.22 L674.42,153.45 L676.31,152.69 L678.21,151.95 L680.11,151.22 L682.01,150.50 L683.92,149.78 L685.84,149.08 L687.75,148.38 L689.67,147.69 L691.59,147.01 L693.51,146.33 L695.44,145.65 L697.36,144.97 L699.28,144.30 L701.21,143.62 L703.13,142.95 L705.06,142.27 L706.98,141.59 L708.90,140.90 L710.81,140.21 L712.73,139.52 L714.64,138.81 L716.55,138.10 L718.46,137.38 L720.36,136.65 L722.25,135.90 L724.14,135.15 L726.03,134.38 L727.91,133.60 L729.78,132.80 L731.65,132.00 L733.52,131.19 L735.38,130.36 L737.24,129.53 L739.10,128.69 L740.95,127.84 L742.80,126.98 L744.65,126.12 L746.49,125.25 L748.33,124.37 L750.17,123.49 L752.00,122.61 L753.84,121.72 L755.67,120.82 L757.50,119.93 L759.33,119.03 L761.16,118.13 L762.99,117.23 L764.82,116.33 L766.65,115.43 L768.48,114.53 L769.43,114.07" fill="none" stroke="#191970" stroke-width="1" shape-rendering="crispEdges"/>
<polygon points="771.48,118.30 781.30,108.30 767.37,109.84" fill="#191970" stroke="#191970" stroke-width="1" shape-rendering="crispEdges"/>
<path d="M683.70,184.10 L685.72,184.61 L687.72,185.16 L689.70,185.77 L691.66,186.42 L693.59,187.12 L695.50,187.86 L697.39,188.64 L699.26,189.46 L701.12,190.32 L702.95,191.22 L704.76,192.15 L706.56,193.12 L708.35,194.12 L710.11,195.14 L711.86,196.20 L713.60,197.28 L715.32,198.39 L717.03,199.52 L718.73,200.67 L720.41,201.84 L722.09,203.04 L723.75,204.24 L725.40,205.47 L727.05,206.70 L728.68,207.95 L730.31,209.21 L731.93,210.48 L733.54,211.76 L735.14,213.05 L736.74,214.35 L738.32,215.66 L739.90,216.97 L741.47,218.30 L743.02,219.64 L744.57,220.99 L746.11,222.36 L747.64,223.73 L749.15,225.11 L750.66,226.51 L752.15,227.91 L753.64,229.33 L755.11,230.75 L756.57,232.19 L758.02,233.65 L759.45,235.11 L760.88,236.58 L762.29,238.07 L763.68,239.57 L765.07,241.08 L766.44,242.60 L767.79,244.13 L769.14,245.68 L770.47,247.24 L771.79,248.81 L773.09,250.39 L774.39,251.98 L775.67,253.57 L776.95,255.18 L778.22,256.79 L779.49,258.41 L780.74,260.03 L781.99,261.66 L783.24,263.29 L784.48,264.92 L785.72,266.56 L786.96,268.20 L788.20,269.84 L789.43,271.47 L790.67,273.11 L791.37,274.02" fill="none" stroke="#191970" stroke-width="1" shape-rendering="crispEdges"/>
<polygon points="787.64,276.88 799.40,284.50 795.10,271.17" fill="#191970" stroke="#191970" stroke-width="1" shape-rendering="crispEdges"/>
<path d="M475.50,374.00 L571.30,374.00" fill="none" stroke="#191970" stroke-width="1" shape-rendering="crispEdges"/>
<polygon points="571.30,378.70 584.50,374.00 571.30,369.30" fill="#191970" stroke="#191970" stroke-width="1" shape-rendering="crispEdges"/>
<path d="M651.60,378.10 L653.64,378.33 L655.68,378.57 L657.72,378.81 L659.76,379.05 L661.80,379.30 L663.84,379.56 L665.88,379.81 L667.91,380.07 L669.95,380.33 L671.99,380.60 L674.02,380.87 L676.06,381.14 L678.09,381.42 L680.13,381.70 L682.16,381.98 L684.20,382.26 L686.23,382.55 L688.26,382.83 L690.30,383.12 L692.33,383.42 L694.36,383.71 L696.39,384.00 L698.43,384.30 L700.46,384.60 L702.49,384.90 L704.52,385.20 L706.55,385.50 L708.58,385.80 L710.62,386.10 L712.65,386.40 L714.68,386.70 L716.71,387.01 L718.74,387.31 L720.77,387.61 L722.80,387.91 L724.84,388.22 L726.87,388.52 L728.90,388.82 L730.93,389.12 L732.96,389.41 L734.99,389.71 L737.03,390.01 L739.06,390.30 L741.09,390.60 L743.12,390.89 L745.16,391.18 L747.19,391.46 L749.22,391.75 L751.26,392.03 L753.29,392.31 L755.33,392.59 L757.36,392.87 L759.40,393.14 L761.43,393.41 L762.60,393.56" fill="none" stroke="#191970" stroke-width="1" shape-rendering="crispEdges"/>
<polygon points="762.02,398.22 775.70,395.20 763.19,388.89" fill="#191970" stroke="#191970" stroke-width="1" shape-rendering="crispEdges"/>
<rect x="5.5" y="462.5" width="134" height="26" fill="#bfbfbf" stroke="#000" stroke-width="1"/>
<text x="15.81" y="479.0" textLength="110.86" lengthAdjust="spacingAndGlyphs">mpi_createMbox</text>
<rect x="188.5" y="512.5" width="116" height="27" fill="#fff" stroke="#000" stroke-width="1"/>
<text x="198.04" y="530.0" textLength="93.38" lengthAdjust="spacingAndGlyphs">mpi_findMbox</text>
<rect x="213.5" y="563.5" width="66" height="27" fill="#fff" stroke="#000" stroke-width="1"/>
<text x="222.85" y="580.0" textLength="42.26" lengthAdjust="spacingAndGlyphs">sprintf</text>
<rect x="380.5" y="512.5" width="68" height="27" fill="#fff" stroke="#000" stroke-width="1"/>
<text x="389.93" y="530.0" textLength="44.86" lengthAdjust="spacingAndGlyphs">strcmp</text>
<rect x="208.5" y="335.5" width="75" height="27" fill="#fff" stroke="#000" stroke-width="1"/>
<text x="219.23" y="352.0" textLength="51.58" lengthAdjust="spacingAndGlyphs">kmalloc</text>
<rect x="352.5" y="360.5" width="123" height="27" fill="#fff" stroke="#000" stroke-width="1"/>
<text x="362.84" y="378.0" textLength="98.77" lengthAdjust="spacingAndGlyphs">insertFreeDesc</text>
<rect x="353.5" y="234.5" width="122" height="26" fill="#fff" stroke="#000" stroke-width="1"/>
<text x="363.64" y="251.0" textLength="96.92" lengthAdjust="spacingAndGlyphs">getEmptyDesc</text>
<rect x="523.5" y="158.5" width="189" height="26" fill="#fff" stroke="#f00" stroke-width="1"/>
<text x="532.81" y="175.0" textLength="167.31" lengthAdjust="spacingAndGlyphs">vmm_getFreeMallocPage</text>
<rect x="579.5" y="208.5" width="77" height="27" fill="#fff" stroke="#000" stroke-width="1"/>
<text x="588.96" y="226.0" textLength="53.10" lengthAdjust="spacingAndGlyphs">memset</text>
<rect x="760.5" y="82.5" width="96" height="26" fill="#fff" stroke="#000" stroke-width="1"/>
<text x="770.89" y="99.0" textLength="73.72" lengthAdjust="spacingAndGlyphs">spinUnlock</text>
<rect x="768.5" y="284.5" width="81" height="27" fill="#fff" stroke="#000" stroke-width="1"/>
<text x="778.02" y="302.0" textLength="57.56" lengthAdjust="spacingAndGlyphs">spinLock</text>
<rect x="584.5" y="360.5" width="67" height="27" fill="#fff" stroke="#f00" stroke-width="1"/>
<text x="595.15" y="378.0" textLength="43.69" lengthAdjust="spacingAndGlyphs">kpanic</text>
<rect x="775.5" y="386.5" width="66" height="26" fill="#fff" stroke="#000" stroke-width="1"/>
<text x="785.15" y="403.0" textLength="42.82" lengthAdjust="spacingAndGlyphs">kprintf</text>
</svg></body></html>
